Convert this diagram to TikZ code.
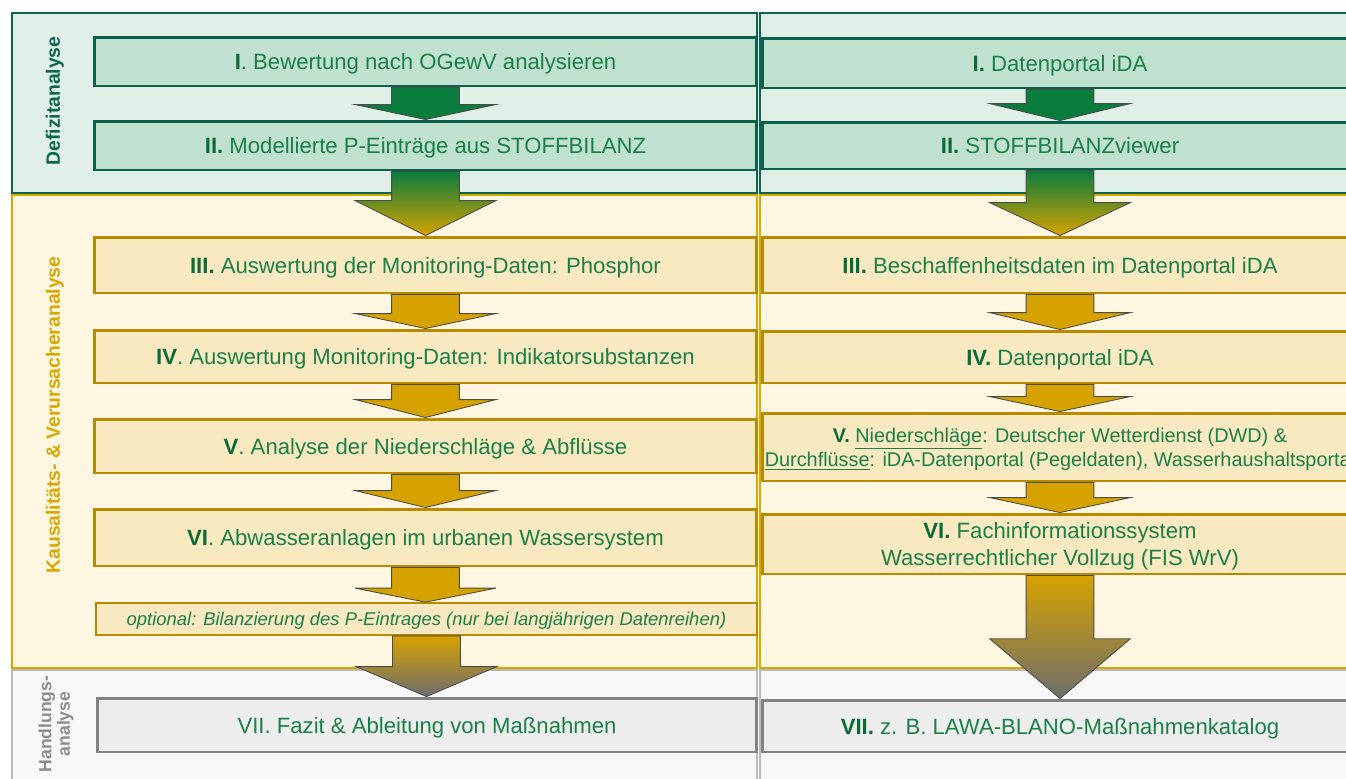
\documentclass[tikz,border=0pt]{standalone}
\usepackage{fontspec}
\setmainfont{Liberation Sans}
\usetikzlibrary{positioning, calc}
\definecolor{def_fill}{RGB}{224, 240, 232}
\definecolor{def_line}{RGB}{12, 102, 78}
\definecolor{def_box}{RGB}{192, 224, 208}
\definecolor{def_boxline}{RGB}{10, 98, 74}
\definecolor{kau_fill}{RGB}{254, 246, 224}
\definecolor{kau_line}{RGB}{216, 168, 0}
\definecolor{kau_box}{RGB}{248, 233, 192}
\definecolor{kau_boxline}{RGB}{184, 138, 0}
\definecolor{hand_fill}{RGB}{248, 248, 248}
\definecolor{hand_line}{RGB}{184, 184, 184}
\definecolor{hand_box}{RGB}{237, 237, 237}
\definecolor{hand_boxline}{RGB}{130, 130, 130}
\definecolor{text_green}{RGB}{26, 128, 72}
\definecolor{num_green}{RGB}{10, 106, 56}
\definecolor{arrow_green}{RGB}{10, 125, 62}
\definecolor{arrow_gold}{RGB}{214, 162, 0}
\definecolor{arrow_gray}{RGB}{110, 110, 110}
\definecolor{label_gray}{RGB}{140, 140, 140}
\def \stufe #1{\textbf{\color{num_green}#1}}
% block arrow from the bottom of one box to the top of the next
\newcommand{\flowarrow}[4]{%
  \path[flow, #4] let \p1=(#1.south), \p2=(#2.north) in
    (\x1-19.3pt,\y1) -- (\x1+19.3pt,\y1) -- (\x1+19.3pt,\y2+#3*0.567pt)
    -- (\x1+40pt,\y2+#3*0.567pt) -- (\x1,\y2) -- (\x1-40pt,\y2+#3*0.567pt)
    -- (\x1-19.3pt,\y2+#3*0.567pt) -- cycle;}

\begin{document}
\begin{tikzpicture}[
    x=0.02cm, y=-0.02cm,
    band/.style={
        rectangle,
        draw=#1_line,
        fill=#1_fill,
        line width=1.1pt,
        inner sep=0pt
    },
    box/.style={
        rectangle,
        draw=#1_boxline,
        fill=#1_box,
        line width=1.7pt,
        inner sep=0pt,
        text depth=0pt,
        text=text_green,
        align=center,
        font=\fontsize{12.6}{15}\selectfont
    },
    phase/.style={
        rotate=90,
        text=#1,
        align=center,
        font=\bfseries\fontsize{11}{11}\selectfont
    },
    flow/.style={
        draw=black!70,
        line width=0.5pt,
        line join=miter
    }
]
\fill[white] (0,0) rectangle (1346,778);
\useasboundingbox (0,0) rectangle (1346,778);

% Phase bands
\node[band=def, minimum width=14.9cm, minimum height=3.6cm] (defl) at (384.5,103) {};
\node[band=def, minimum width=11.96cm, minimum height=3.6cm] (defr) at (1059,103) {};
\node[band=kau, minimum width=14.9cm, minimum height=9.46cm] (kaul) at (384.5,431.5) {};
\node[band=kau, minimum width=11.96cm, minimum height=9.46cm] (kaur) at (1059,431.5) {};
\node[band=hand, minimum width=14.9cm, minimum height=2.4cm] (handl) at (384.5,730) {};
\node[band=hand, minimum width=11.96cm, minimum height=2.4cm] (handr) at (1059,730) {};

% Phase labels
\node[phase=def_line] (deflabel) at (55,101) {Defizitanalyse};
\node[phase=kau_line] (kaulabel) at (55,415) {Kausalitäts- \& Verursacheranalyse};
\node[phase=label_gray, font=\bfseries\fontsize{10}{10.5}\selectfont] (handlabel) at (56,724) {Handlungs-\\analyse};

% Left column: steps
\node[box=def, minimum width=13.26cm, minimum height=0.98cm] (l1) at (425.5,61.5) {\stufe{I}. Bewertung nach OGewV analysieren};
\node[box=def, minimum width=13.26cm, minimum height=0.98cm] (l2) at (425.5,145.5) {\stufe{II.} Modellierte P-Einträge aus STOFFBILANZ};
\node[box=kau, minimum width=13.26cm, minimum height=1.12cm] (l3) at (425.5,265) {\stufe{III.} Auswertung der Monitoring-Daten: Phosphor};
\node[box=kau, minimum width=13.26cm, minimum height=1.06cm] (l4) at (425.5,356.5) {\stufe{IV}. Auswertung Monitoring-Daten: Indikatorsubstanzen};
\node[box=kau, minimum width=13.26cm, minimum height=1.08cm] (l5) at (425.5,446) {\stufe{V}. Analyse der Niederschläge \& Abflüsse};
\node[box=kau, minimum width=13.26cm, minimum height=1.14cm] (l6) at (425.5,537.5) {\stufe{VI}. Abwasseranlagen im urbanen Wassersystem};
\node[box=kau, line width=1pt, minimum width=13.22cm, minimum height=0.64cm, font=\itshape\fontsize{10.5}{12}\selectfont] (lopt) at (426.5,619) {optional: Bilanzierung des P-Eintrages (nur bei langjährigen Datenreihen)};
\node[box=hand, minimum width=13.2cm, minimum height=1.08cm] (l7) at (427,725) {VII. Fazit \& Ableitung von Maßnahmen};

% Right column: data sources
\node[box=def, minimum width=11.92cm, minimum height=1.0cm] (r1) at (1060,63) {\stufe{I.} Datenportal iDA};
\node[box=def, minimum width=11.92cm, minimum height=0.94cm] (r2) at (1060,145.5) {\stufe{II.} STOFFBILANZviewer};
\node[box=kau, minimum width=11.92cm, minimum height=1.12cm] (r3) at (1060,265) {\stufe{III.} Beschaffenheitsdaten im Datenportal iDA};
\node[box=kau, minimum width=11.92cm, minimum height=1.04cm] (r4) at (1060,357) {\stufe{IV.} Datenportal iDA};
\node[box=kau, minimum width=11.92cm, minimum height=1.36cm, font=\fontsize{11.3}{13.8}\selectfont] (r5) at (1060,447) {\stufe{V.} \underline{Niederschläge}: Deutscher Wetterdienst (DWD) \&\\\underline{Durchflüsse}: iDA-Datenportal (Pegeldaten), Wasserhaushaltsportal};
\node[box=kau, minimum width=11.92cm, minimum height=1.2cm, font=\fontsize{12.6}{15.8}\selectfont] (r6) at (1060,544) {\stufe{VI.} Fachinformationssystem\\Wasserrechtlicher Vollzug (FIS WrV)};
\node[box=hand, minimum width=11.92cm, minimum height=1.04cm] (r7) at (1060,726) {\stufe{VII.} z. B. LAWA-BLANO-Maßnahmenkatalog};

% Arrows between the steps
\flowarrow{l1}{l2}{15}{fill=arrow_green}
\flowarrow{l2}{l3}{35}{top color=arrow_green, bottom color=arrow_gold}
\flowarrow{l3}{l4}{15}{fill=arrow_gold}
\flowarrow{l4}{l5}{18}{fill=arrow_gold}
\flowarrow{l5}{l6}{17}{fill=arrow_gold}
\flowarrow{l6}{lopt}{14}{fill=arrow_gold}
\flowarrow{lopt}{l7}{30}{top color=arrow_gold, bottom color=arrow_gray}
\flowarrow{r1}{r2}{17}{fill=arrow_green}
\flowarrow{r2}{r3}{33}{top color=arrow_green, bottom color=arrow_gold}
\flowarrow{r3}{r4}{17}{fill=arrow_gold}
\flowarrow{r4}{r5}{15}{fill=arrow_gold}
\flowarrow{r5}{r6}{15}{fill=arrow_gold}
\flowarrow{r6}{r7}{60}{top color=arrow_gold, bottom color=arrow_gray}

\end{tikzpicture}
\end{document}
